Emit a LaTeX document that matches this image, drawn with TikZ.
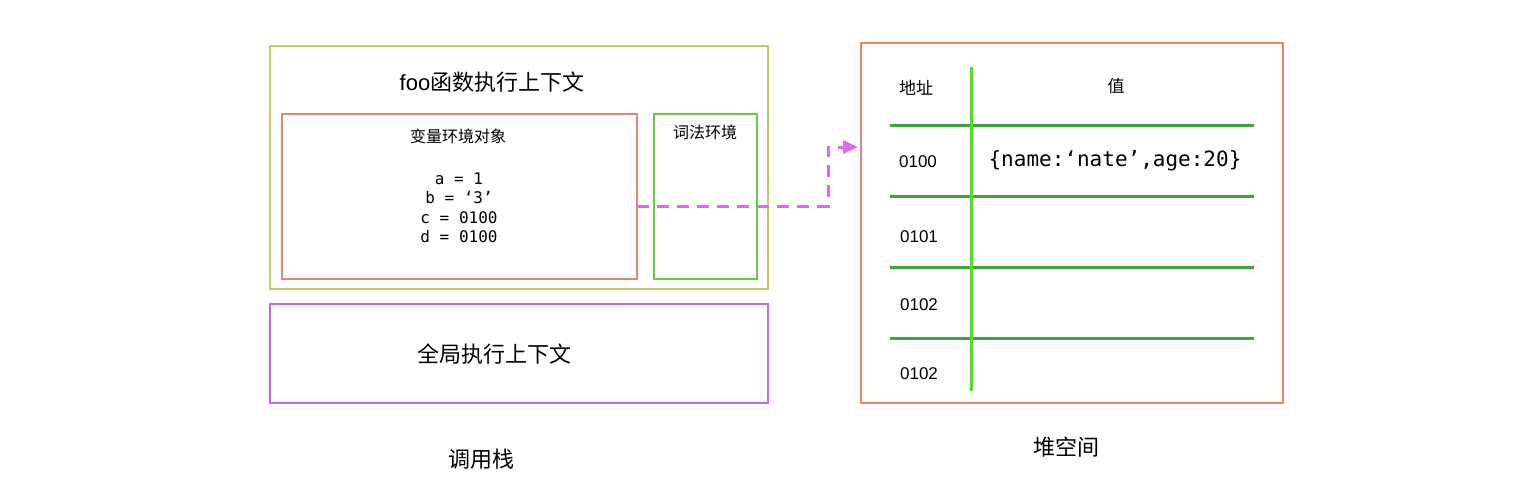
\documentclass[tikz,border=0pt]{standalone}
\usepackage{fontspec}
\setmainfont{Liberation Sans}
\setmonofont{DejaVu Sans Mono}
\newfontfamily\cjk{Noto Sans CJK SC}
\usetikzlibrary{positioning,arrows.meta}
\definecolor{olivebox}{RGB}{190,206,96}
\definecolor{orangebox}{RGB}{222,136,112}
\definecolor{greenbox}{RGB}{102,204,72}
\definecolor{purplebox}{RGB}{200,104,232}
\definecolor{rowline}{RGB}{62,164,52}
\definecolor{colline}{RGB}{84,222,40}
\definecolor{ptrline}{RGB}{222,104,240}

\begin{document}
\begin{tikzpicture}[x=1pt,y=-1pt,inner sep=0pt,outer sep=0pt]
        \tikzstyle{frame}=[draw,line width=2.5pt,minimum width=#1]
        \tikzstyle{label}=[font=\cjk\fontsize{16}{18}\selectfont]
        \tikzstyle{big}=[font=\cjk\fontsize{22}{24}\selectfont]
        \tikzstyle{addr}=[font=\fontsize{17}{20}\selectfont]
        \useasboundingbox (0,0) rectangle (1518,488);
        % call stack
        \node[frame=498pt,draw=olivebox,minimum height=243pt] (fooctx) at (519,167.5) {};
        \node[frame=355pt,draw=orangebox,minimum height=165pt] (varenv) at (459.5,196.5) {};
        \node[frame=103pt,draw=greenbox,minimum height=165pt] (lexenv) at (705.5,196.5) {};
        \node[frame=498pt,draw=purplebox,minimum height=99pt] (globalctx) at (519,353.5) {};
        \node[big] (foolabel) at (492,82) {{\fontspec{Liberation Sans}foo}函数执行上下文};
        \node[label] (varlabel) at (458,136) {变量环境对象};
        \node[label] (lexlabel) at (705,132) {词法环境};
        \node[font=\ttfamily\fontsize{16}{19.5}\selectfont,align=center] (vars) at (459,208)
            {a = 1\\b = ‘3’\\c = 0100\\d = 0100};
        \node[big] (globallabel) at (494,354) {全局执行上下文};
        \node[big] (stacklabel) at (481,459) {调用栈};
        % heap
        \node[frame=422pt,draw=orangebox,minimum height=360pt] (heap) at (1072,223) {};
        \node[label,font=\cjk\fontsize{17}{20}\selectfont] (addrhead) at (916,88) {地址};
        \node[label,font=\cjk\fontsize{17}{20}\selectfont] (valhead) at (1116,86) {值};
        \node[big] (heaplabel) at (1066,447) {堆空间};
        \foreach \y in {125,196,267,338}
            \draw[rowline,line width=3pt] (890,\y) -- (1254,\y);
        \draw[colline,line width=3pt] (971,67) -- (971,391);
        \node[addr] (row0) at (918,162) {0100};
        \node[addr] (row1) at (919,237) {0101};
        \node[addr] (row2) at (919,305) {0102};
        \node[addr] (row3) at (919,374) {0102};
        \node[font=\ttfamily\fontsize{21}{24}\selectfont] (obj) at (1115,161) {\{name:‘nate’,age:20\}};
        % pointer
        \draw[ptrline,line width=3pt,dash pattern=on 12pt off 8pt,-{Triangle[length=15pt,width=13pt]}]
            ([yshift=-9.5pt]varenv.east) -- ++(191,0) |- ([xshift=-3pt,yshift=76pt]heap.west);
    \end{tikzpicture}
\end{document}
